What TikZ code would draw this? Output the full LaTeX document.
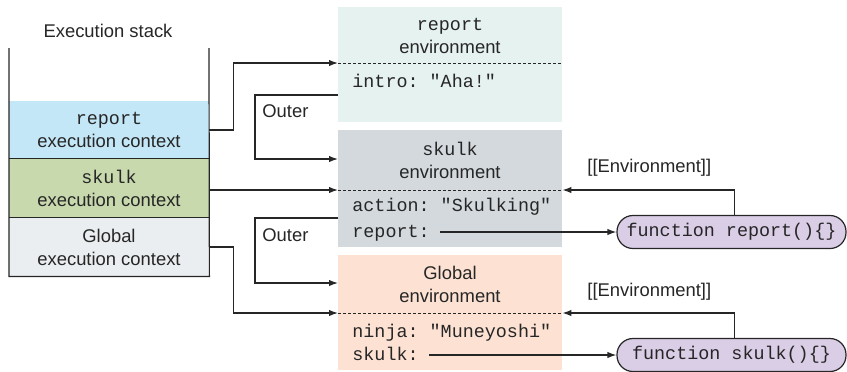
\documentclass[tikz,border=0pt]{standalone}
\usepackage{fontspec}
\setmainfont{Liberation Sans}
\setmonofont{Liberation Mono}
\usetikzlibrary{arrows.meta,positioning}
\definecolor{ink}{HTML}{262626}
\definecolor{ctxblue}{HTML}{C4E7F7}
\definecolor{ctxgreen}{HTML}{C9D9AE}
\definecolor{ctxgray}{HTML}{EBEEF0}
\definecolor{envmint}{HTML}{E5F2EF}
\definecolor{envslate}{HTML}{D3D9DD}
\definecolor{envpeach}{HTML}{FDE2D3}
\definecolor{fnfill}{HTML}{DACDE6}

\begin{document}
\begin{tikzpicture}[
  x=0.5pt,y=-0.5pt,
  font=\fontsize{9.2}{11.5}\selectfont,
  text=ink,
  frame/.style={fill=#1,minimum width=100pt,inner sep=0pt,align=center},
  envbox/.style={fill=#1,minimum width=112pt,inner sep=0pt},
  lbl/.style={inner sep=0pt,align=center},
  code/.style={inner sep=0pt,anchor=west,text height=7pt,text depth=2pt,font=\fontsize{9.2}{11.5}\selectfont\ttfamily},
  fnbox/.style={draw=ink,line width=0.6pt,fill=fnfill,rounded corners=8pt,minimum width=114.5pt,minimum height=16.5pt,inner sep=0pt,font=\fontsize{9.2}{11.5}\selectfont\ttfamily},
  sep/.style={draw=ink,dash pattern=on 1.6pt off 0.9pt,line width=0.5pt},
  flow/.style={-{Latex[length=4.5pt,width=3.2pt]},draw=ink,line width=0.6pt},
  wall/.style={draw=ink,line width=0.6pt},
]
\useasboundingbox (0,0) rectangle (847,371);

% --- execution stack
\node[lbl] (stacktitle) at (108,31) {Execution stack};
\node[frame=ctxblue,minimum height=29pt] (repctx) at (109,130) {\texttt{report}\\execution context};
\node[frame=ctxgreen,minimum height=29.5pt] (skctx) at (109,188.5) {\texttt{skulk}\\execution context};
\node[frame=ctxgray,minimum height=29pt] (glctx) at (109,247) {Global\\execution context};
\coordinate (stl) at (9,48);
\coordinate (str) at (209,48);
\draw[wall] (stl) |- (glctx.south east) -- (str);
\draw[wall] (skctx.north west) -- (skctx.north east);
\draw[wall] (glctx.north west) -- (glctx.north east);

% --- environments
\node[envbox=envmint,minimum height=57.5pt] (repenv) at (450,64.5) {};
\node[envbox=envslate,minimum height=58.5pt] (skenv) at (450,188.5) {};
\node[envbox=envpeach,minimum height=57.5pt] (glenv) at (450,312.5) {};

\node[lbl] (repname) at (450,36) {\texttt{report}\\environment};
\node[lbl] (skname) at (450,160) {\texttt{skulk}\\environment};
\node[lbl] (glname) at (450,284) {Global\\environment};

\coordinate (repdash) at (338,63);
\coordinate (skdash) at (338,190);
\coordinate (gldash) at (338,313);
\draw[sep] (repdash) -- (repdash -| repenv.east);
\draw[sep] (skdash) -- (skdash -| skenv.east);
\draw[sep] (gldash) -- (gldash -| glenv.east);

\node[code] (intro) at (352,82) {intro: "Aha!"};
\node[code] (action) at (352,206) {action: "Skulking"};
\node[code] (repkey) at (352,232) {report:};
\node[code] (ninja) at (352,332) {ninja: "Muneyoshi"};
\node[code] (skkey) at (352,355) {skulk:};

% --- function objects
\node[fnbox] (fnrep) at (731.5,232) {function report()\{\}};
\node[fnbox] (fnsk) at (731.5,355) {function skulk()\{\}};

% --- context -> environment
\draw[flow] (repctx.east) -- ++(24,0) |- (repdash);
\draw[flow] (skctx.east |- skdash) -- (skdash);
\draw[flow] (glctx.east) -- ++(24,0) |- (gldash);

% --- outer links
\coordinate (outAfrom) at (338,95);
\coordinate (outAto) at (338,159);
\coordinate (outBfrom) at (338,218);
\coordinate (outBto) at (338,283);
\draw[flow] (outAfrom) -- ++(-83,0) |- (outAto);
\draw[flow] (outBfrom) -- ++(-83,0) |- (outBto);
\node[lbl,anchor=west] (outerA) at (262,111) {Outer};
\node[lbl,anchor=west] (outerB) at (262,235) {Outer};

% --- function references
\draw[flow] ([xshift=5pt]repkey.east) -- (fnrep.west);
\draw[flow] ([xshift=5pt]skkey.east) -- (fnsk.west);
\draw[flow] ([xshift=1.5pt]fnrep.north) |- (skdash -| skenv.east);
\draw[flow] ([xshift=1.5pt]fnsk.north) |- (gldash -| glenv.east);
\node[lbl,anchor=west] (envA) at (587,168) {[[Environment]]};
\node[lbl,anchor=west] (envB) at (587,292) {[[Environment]]};
\end{tikzpicture}
\end{document}
